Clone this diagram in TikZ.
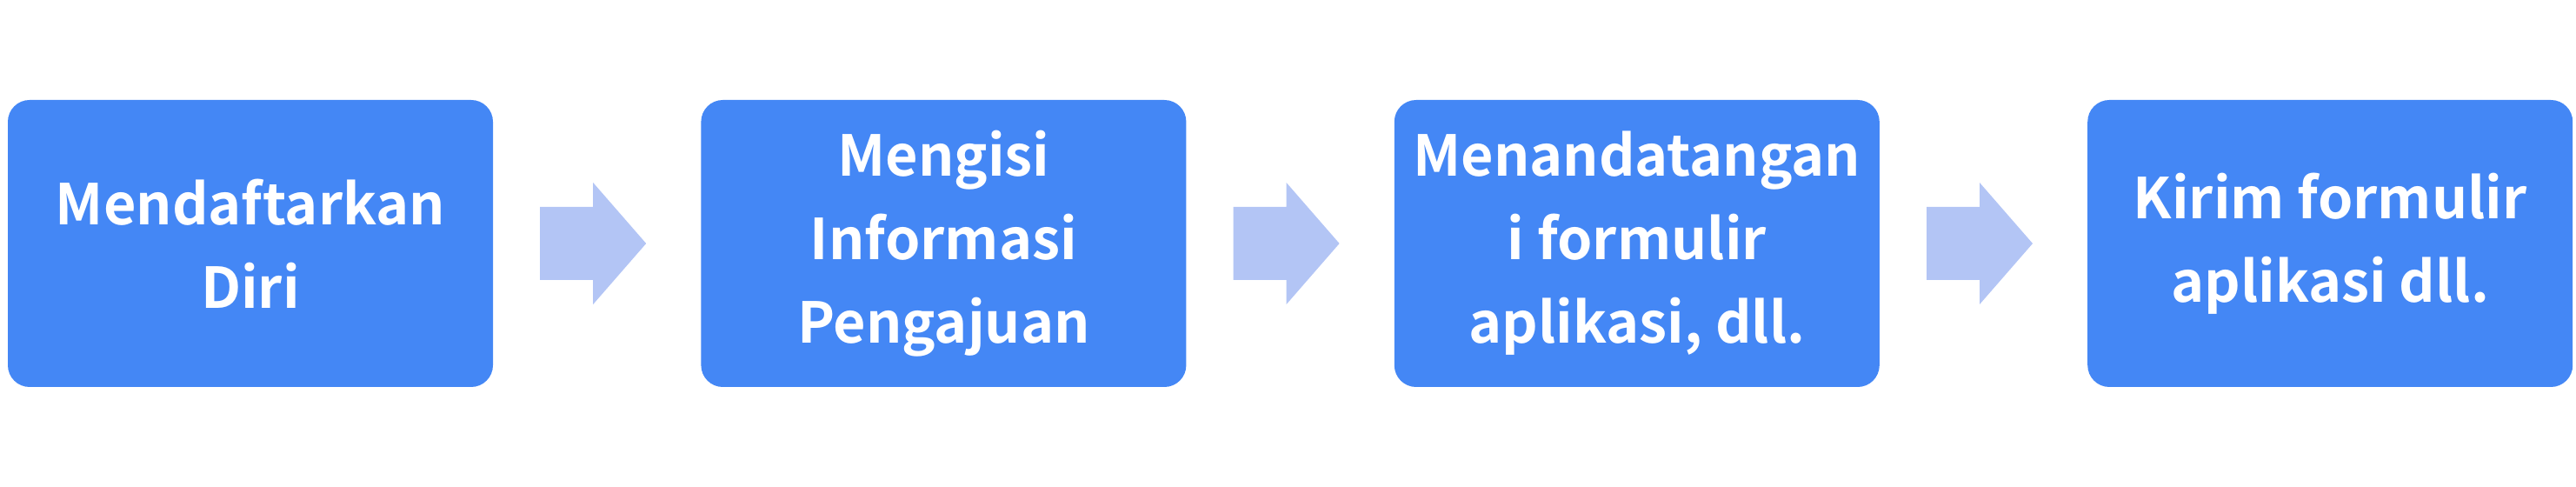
\documentclass[tikz,border=0pt]{standalone}
\usepackage{fontspec}
\newfontfamily\boxfont{Noto Sans CJK JP Bold}
\usetikzlibrary{positioning,calc}

\definecolor{boxblue}{RGB}{68,135,245}
\definecolor{arrowblue}{RGB}{179,197,245}

\begin{document}
\begin{tikzpicture}[
  stepbox/.style={fill=boxblue, rounded corners=.25cm, minimum width=5.58cm, minimum height=3.3cm,
    text=white, align=center, font=\boxfont\fontsize{18.4}{27.3}\selectfont, inner sep=0pt},
  arrowfill/.style={fill=arrowblue}
]
\useasboundingbox (0,0) rectangle (29.63,5.6);

\node[stepbox] (b1) at (2.88,2.8) {Mendaftarkan\\Diri};
\node[stepbox, right=2.38cm of b1] (b2) {Mengisi\\Informasi\\Pengajuan};
\node[stepbox, right=2.38cm of b2] (b3) {Menandatangan\\i formulir\\aplikasi, dll.};
\node[stepbox, right=2.38cm of b3] (b4) {Kirim formulir\\aplikasi dll.};

\foreach \i/\j in {b1/b2,b2/b3,b3/b4} {
\coordinate (m) at ($(\i.east)!.5!(\j.west)$);
\fill[arrowfill] ([shift={(-.655,-.42)}]m) -- ([shift={(-.045,-.42)}]m) -- ([shift={(-.045,-.7)}]m)
  -- ([shift={(.565,0)}]m) -- ([shift={(-.045,.7)}]m) -- ([shift={(-.045,.42)}]m)
  -- ([shift={(-.655,.42)}]m) -- cycle;
}

\end{tikzpicture}
\end{document}
